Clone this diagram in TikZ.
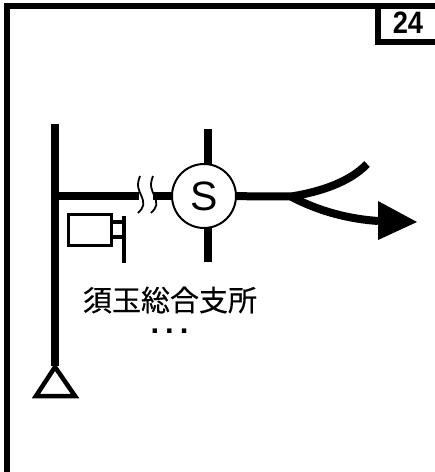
\documentclass[tikz,border=0pt]{standalone}
\usepackage{fontspec}
\setmainfont{Liberation Sans}
\newfontfamily\cjkfont[FakeBold=0.4]{Noto Sans CJK JP}
\begin{document}
\begin{tikzpicture}[x=1pt,y=-1pt,
    frameline/.style={line width=6pt},
    roadline/.style={line width=8pt},
    wavy/.style={line width=1.8pt}]
    \useasboundingbox (0,0) rectangle (435,472);

    % marco
    \draw[frameline,miter limit=10] (7,472) -- (7,6) -- (435,6);
    \draw[frameline] (435,42) -- (377.5,42) -- (377.5,6);
    \node[font=\bfseries\fontsize{31}{31}\selectfont,xscale=0.88,inner sep=0pt] (number) at (408,22.5) {24};

    % carretera principal
    \coordinate (top end) at (55,124);
    \coordinate (stem end) at (55,366);
    \coordinate (branch) at (55,196);
    \coordinate (gap left) at (139,196);
    \coordinate (gap right) at (153,196);
    \coordinate (cross top) at (208,129);
    \coordinate (cross bottom) at (208,262);
    \coordinate (fork) at (291,196.5);
    \draw[roadline] (top end) -- (stem end);
    \draw[roadline] (branch) -- (gap left);
    \draw[roadline] (cross top) -- (cross bottom);
    \node[draw,circle,fill=white,line width=2pt,minimum size=64pt,inner sep=0pt,font=\fontsize{41}{41}\selectfont] (signal) at (204,196) {S};
    \draw[roadline] (gap right) -- (signal);
    \draw[roadline] (signal) -- (fork);

    % corte
    \foreach \x in {0,13}
        \draw[wavy,xshift=\x pt] (140,176) .. controls (136,186) and (139,190) .. (141,195) .. controls (145,204) and (144,207) .. (138,213);

    % triangulo
    \draw[line width=4.5pt] (55,367) -- (75,396) -- (36,396) -- cycle;

    % camara
    \node[draw,line width=3.4pt,minimum width=43pt,minimum height=31pt,inner sep=0pt] (camera) at (90,230) {};
    \coordinate (mount top) at (124,216);
    \coordinate (mount bottom) at (124,263);
    \draw[line width=4.5pt] (mount top) -- (mount bottom);
    \draw[line width=3.4pt] (113,222) -- (124,222) (113,237) -- (124,237);

    % salida
    \coordinate (upper end) at (367,164);
    \coordinate (arrow base) at (378,221);
    \draw[line width=8pt] (fork) .. controls (320,192) and (350,182) .. (upper end);
    \draw[line width=8pt] (fork) .. controls (320,212) and (350,219) .. (arrow base);
    \fill (378,201) -- (417,222) -- (378,240) -- cycle;

    % textos
    \node[font=\cjkfont\fontsize{29}{29}\selectfont,inner sep=0pt] (name) at (170,300) {須玉総合支所};
    \node[font=\bfseries\fontsize{31}{31}\selectfont,inner sep=0pt,anchor=base] (dots) at (169.5,333) {.\kern6pt.\kern6pt.};
\end{tikzpicture}
\end{document}
